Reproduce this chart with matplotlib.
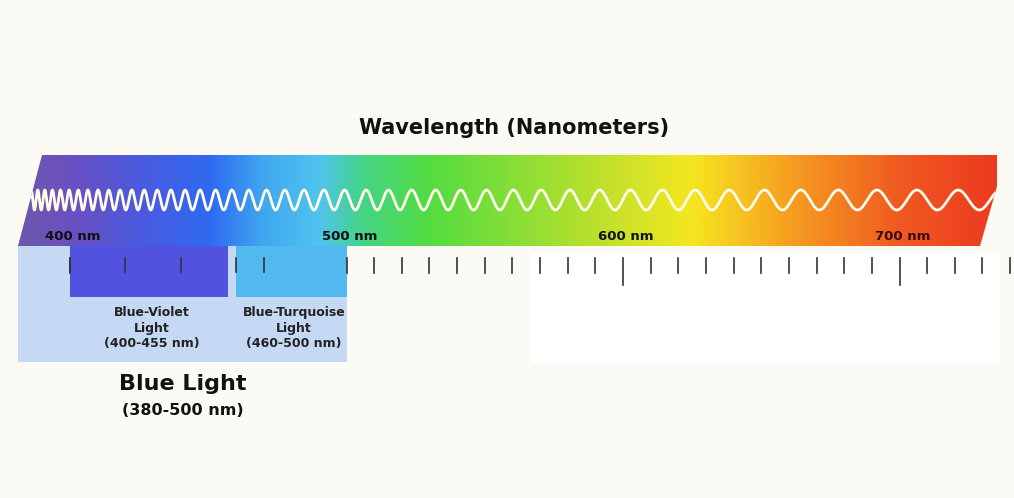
import numpy as np
import matplotlib.pyplot as plt
from matplotlib.patches import Polygon, Rectangle, FancyBboxPatch
from matplotlib.colors import LinearSegmentedColormap

# wavelength axis labels (nm)
label_nm = [400, 500, 600, 700]
tick_nm = list(range(400, 750, 10))
major_nm = [600, 700]

# gradient stops (nm, colour)
stop_nm = [375, 400, 425, 450, 470, 490, 505, 530, 580, 625, 660, 700, 735]
stop_col = ["#6e5ca6", "#6a50c0", "#4a5ae0", "#2f6af0", "#40a8f0", "#50c4ee", "#44d488",
            "#54dc40", "#a8e030", "#f6e620", "#f6a020", "#f05a20", "#ec3a20"]

groups = ["Blue-Violet\nLight\n(400-455 nm)", "Blue-Turquoise\nLight\n(460-500 nm)"]
group_nm = [(400, 457), (460, 500)]
group_col = ["#5252e0", "#52b8f0"]

PX = 2.765  # pixels per nm
X0 = 400 - 70 / PX
X1 = X0 + 1014 / PX
def nx(px):
    return X0 + px / PX

fig = plt.figure(figsize=(10.14, 4.98), dpi=100)
fig.patch.set_facecolor("#fbfaf4")
ax = fig.add_axes([0, 0, 1, 1])
ax.set_xlim(X0, X1)
ax.set_ylim(498, 0)
ax.axis("off")

# white panel on the right
ax.add_patch(FancyBboxPatch((nx(530), 252), nx(1000) - nx(530), 112,
                            boxstyle="round,pad=0,rounding_size=4", fc="white", ec="none"))

# blue light background
ax.add_patch(Rectangle((nx(18), 246), 500 - nx(18), 116, fc="#c6d9f4", ec="none"))
for (a, b), c in zip(group_nm, group_col):
    ax.add_patch(Rectangle((a, 246), b - a, 51, fc=c, ec="none"))

# spectrum band
poly = Polygon([(nx(42), 155), (nx(1006), 155), (nx(980), 246), (nx(18), 246)],
               closed=True, fc="none", ec="none")
ax.add_patch(poly)
cmap = LinearSegmentedColormap.from_list(
    "spec", [((n - stop_nm[0]) / (stop_nm[-1] - stop_nm[0]), c) for n, c in zip(stop_nm, stop_col)])
grad = np.linspace(0, 1, 512).reshape(1, -1)
im = ax.imshow(grad, cmap=cmap, aspect="auto",
               extent=(stop_nm[0], stop_nm[-1], 246, 155), zorder=1)
im.set_clip_path(poly)

# chirped wave
xp = np.linspace(30, 995, 4000)
period = 6 + (43 - 6) * ((xp - 30) / 965) ** 0.8
phase = np.cumsum(2 * np.pi / period * (xp[1] - xp[0]))
wave, = ax.plot(nx(xp), 200 - 10 * np.sin(phase), color="#fffbe8", lw=2, zorder=2)
wave.set_clip_path(poly)

# ticks
for n in tick_nm:
    if n < 500 and n not in (400,):
        continue
    bottom = 285 if n in major_nm else 273
    ax.plot([n, n], [258, bottom], color="#333333", lw=1.2, zorder=3)
for n in [420, 440, 470]:
    ax.plot([n, n], [258, 272], color="#333333", lw=1.2, zorder=3)
ax.plot([400, 400], [258, 272], color="#333333", lw=1.2, zorder=3)
ax.plot([460, 460], [258, 272], color="#333333", lw=1.2, zorder=3)

for n in label_nm:
    col = "#3a0a0a" if n == 700 else "#111111"
    ax.text(n + 1, 236, f"{n} nm", ha="center", va="center", fontsize=9.5,
            fontweight="bold", color=col, zorder=4)

ax.text(nx(514), 128, "Wavelength (Nanometers)", ha="center", va="center",
        fontsize=15, fontweight="bold", color="#111111")
for (a, b), g in zip(group_nm, groups):
    ax.text((a + b) / 2 + 1, 328, g, ha="center", va="center", fontsize=9,
            fontweight="bold", color="#222222", linespacing=1.25)
ax.text(nx(183), 384, "Blue Light", ha="center", va="center", fontsize=16,
        fontweight="bold", color="#111111")
ax.text(nx(183), 410, "(380-500 nm)", ha="center", va="center", fontsize=11.5,
        fontweight="bold", color="#111111")

fig.savefig("out.png", dpi=100, facecolor=fig.get_facecolor())
